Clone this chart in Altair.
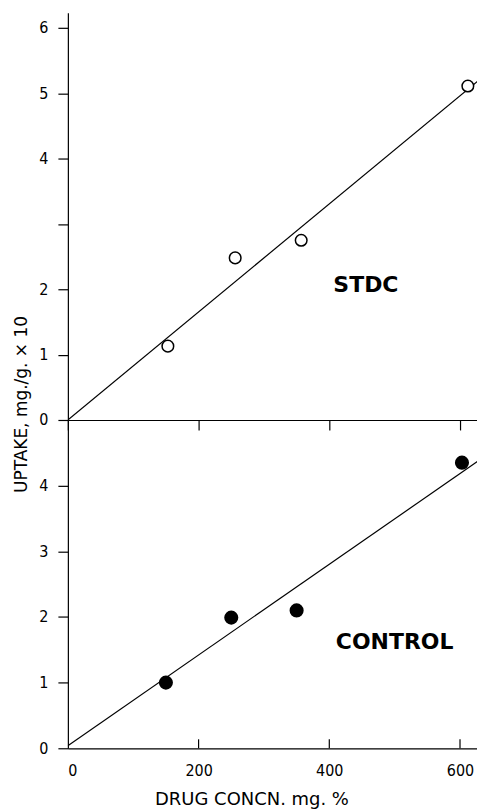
import altair as alt
import pandas as pd

# ---- data ----
stdc_conc = [153, 256, 357, 612]
stdc_uptake = [1.13, 2.48, 2.75, 5.11]
ctrl_conc = [150, 250, 350, 603]
ctrl_uptake = [1.00, 1.99, 2.10, 4.35]

stdc_fit_conc = [0, 640]
stdc_fit_uptake = [0.0, 5.29]
ctrl_fit_conc = [0, 640]
ctrl_fit_uptake = [0.04, 4.46]

x_tick_values = [0, 200, 400, 600]
inner_tick_values = [200, 400, 600]
top_y_ticks = [0, 1, 2, 3, 4, 5, 6]
bottom_y_ticks = [0, 1, 2, 3, 4]

panel_labels_top = ["STDC"]
panel_labels_bottom = ["CONTROL"]
label_top_pos = (456, 2.06)
label_bottom_pos = (500, 1.62)

FONT = "DejaVu Sans Condensed"
TITLE_FONT = "DejaVu Sans"
W = 410
H_TOP = 408
H_BOT = 329
X_DOMAIN = [0, 626]

stdc_df = pd.DataFrame({"conc": stdc_conc, "uptake": stdc_uptake})
ctrl_df = pd.DataFrame({"conc": ctrl_conc, "uptake": ctrl_uptake})
stdc_fit = pd.DataFrame({"conc": stdc_fit_conc, "uptake": stdc_fit_uptake})
ctrl_fit = pd.DataFrame({"conc": ctrl_fit_conc, "uptake": ctrl_fit_uptake})
lab_top = pd.DataFrame({"conc": [label_top_pos[0]], "uptake": [label_top_pos[1]], "t": panel_labels_top})
lab_bot = pd.DataFrame({"conc": [label_bottom_pos[0]], "uptake": [label_bottom_pos[1]], "t": panel_labels_bottom})
inner_df = pd.DataFrame({"conc": inner_tick_values})

# ---- top panel (STDC) ----
xt = alt.X("conc:Q", scale=alt.Scale(domain=X_DOMAIN, nice=False),
           axis=alt.Axis(values=x_tick_values, labels=False, tickSize=10, title=None))
yt = alt.Y("uptake:Q", scale=alt.Scale(domain=[0, 6.23], nice=False),
           axis=alt.Axis(values=top_y_ticks, tickSize=10, labelPadding=10, format="d",
                         labelExpr="datum.value == 3 ? '' : datum.label",
                         title="UPTAKE, mg./g. × 10", titleAngle=-90,
                         titleAlign="center", titleBaseline="middle",
                         titleFont=TITLE_FONT, titleFontSize=17,
                         titleX=-46, titleY=392))

top_line = alt.Chart(stdc_fit).mark_line(color="black", strokeWidth=1.2, clip=True).encode(x=xt, y=yt)
top_pts = alt.Chart(stdc_df).mark_point(shape="circle", size=135, filled=False, fill="white",
                                        fillOpacity=1, color="black", strokeWidth=1.5,
                                        opacity=1).encode(x="conc:Q", y="uptake:Q")
top_lab = alt.Chart(lab_top).mark_text(font="DejaVu Sans", fontWeight="bold", fontSize=22,
                                       color="black", align="center", baseline="middle").encode(
    x="conc:Q", y="uptake:Q", text="t:N")
top = alt.layer(top_line, top_pts, top_lab).properties(width=W, height=H_TOP)

# ---- bottom panel (CONTROL) ----
xb = alt.X("conc:Q", scale=alt.Scale(domain=X_DOMAIN, nice=False),
           axis=alt.Axis(values=x_tick_values, tickSize=0, labelPadding=14, format="d",
                         title="DRUG CONCN. mg. %", titleAlign="center",
                         titleFont=TITLE_FONT, titleFontSize=18,
                         titleBaseline="middle", titleX=184, titleY=51))
yb = alt.Y("uptake:Q", scale=alt.Scale(domain=[0, 5], nice=False),
           axis=alt.Axis(values=bottom_y_ticks, tickSize=10, labelPadding=10, format="d", title=None))

bot_line = alt.Chart(ctrl_fit).mark_line(color="black", strokeWidth=1.2, clip=True).encode(x=xb, y=yb)
bot_pts = alt.Chart(ctrl_df).mark_point(shape="circle", size=200, filled=True,
                                        color="black", opacity=1).encode(x="conc:Q", y="uptake:Q")
bot_ticks = alt.Chart(inner_df).mark_rule(color="black", strokeWidth=1.2).encode(
    x="conc:Q", y=alt.value(H_BOT - 9), y2=alt.value(H_BOT))
bot_lab = alt.Chart(lab_bot).mark_text(font="DejaVu Sans", fontWeight="bold", fontSize=22,
                                       color="black", align="center", baseline="middle").encode(
    x="conc:Q", y="uptake:Q", text="t:N")
bottom = alt.layer(bot_line, bot_pts, bot_ticks, bot_lab).properties(width=W, height=H_BOT)

chart = alt.vconcat(top, bottom, spacing=0, bounds="flush").properties(
    padding={"left": 5, "top": 4, "right": 0, "bottom": 5},
    background="white",
).configure_view(stroke=None).configure_axis(
    grid=False, domainColor="black", tickColor="black", labelColor="black",
    titleColor="black", domainWidth=1.2, tickWidth=1.2,
    labelFont=FONT, labelFontSize=16, titleFont=TITLE_FONT, titleFontSize=17,
    titleFontWeight="normal",
)

chart.save("out.html", embed_options={"renderer": "svg", "actions": False})
